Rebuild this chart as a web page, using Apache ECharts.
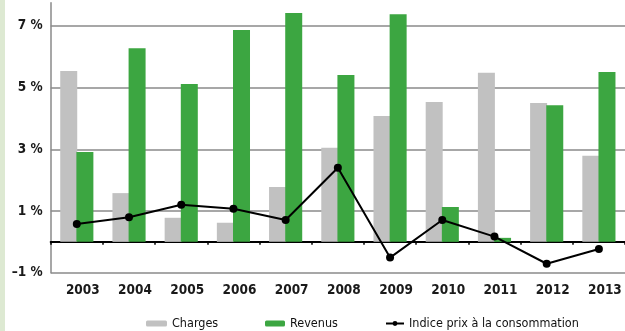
<!DOCTYPE html>
<html><head><meta charset="utf-8">
<script src="https://cdn.jsdelivr.net/npm/echarts@6/dist/echarts.min.js"></script>
<style>html,body{margin:0;padding:0;background:#fff}#c{width:625px;height:331px}
#strip{position:absolute;left:0;top:0;width:5px;height:331px;background:#dde9d2}</style>
</head><body><div id="strip"></div><div id="c"></div>
<script>
const years = ['2003','2004','2005','2006','2007','2008','2009','2010','2011','2012','2013'];
const charges = [5.54, 1.58, 0.78, 0.62, 1.78, 3.05, 4.08, 4.53, 5.48, 4.50, 2.79];
const revenus = [2.91, 6.28, 5.12, 6.87, 7.42, 5.41, 7.38, 1.13, 0.13, 4.43, 5.51];
const ipc = [0.58, 0.80, 1.20, 1.07, 0.71, 2.40, -0.51, 0.71, 0.17, -0.71, -0.23];
const yTickLabels = {'-1':'–1 %','1':'1 %','3':'3 %','5':'5 %','7':'7 %'};
const legendNames = ['Charges', 'Revenus', 'Indice prix à la consommation'];

const FONT = "'Liberation Sans Narrow','DejaVu Sans Condensed',sans-serif";
const legendStyle = {fontFamily: FONT, fontSize: 12.5, fontWeight: 'normal', color: '#111'};
const chart = echarts.init(document.getElementById('c'));
chart.setOption({
  animation: false,
  textStyle: {fontFamily: FONT},
  grid: {left: 50.7, right: 0, top: 2.8, bottom: 58.3, containLabel: false},
  legend: [
    {left: 141, top: 312, itemWidth: 21, itemHeight: 6, textStyle: legendStyle, data: [legendNames[0]]},
    {left: 260, top: 312, itemWidth: 20, itemHeight: 6, textStyle: legendStyle, data: [legendNames[1]]},
    {left: 380, top: 312, itemWidth: 18, itemHeight: 6, textStyle: legendStyle, data: [legendNames[2]]}
  ],
  xAxis: [{
    type: 'category', data: years,
    axisLine: {onZero: true, lineStyle: {color: '#000', width: 2}},
    axisTick: {show: true, length: 3, lineStyle: {color: '#000', width: 1.5}},
    axisLabel: {show: false}
  }, {
    type: 'category', data: years, position: 'bottom',
    axisLine: {show: false, onZero: false}, axisTick: {show: false},
    axisLabel: {margin: 11, fontFamily: FONT, fontSize: 13.5, fontWeight: 'bold', color: '#1a1a1a', padding: [0,0,0,12]}
  }],
  yAxis: {
    type: 'value', min: -1, max: 7.75, interval: 2,
    axisLine: {show: true, lineStyle: {color: '#8a8a8a', width: 1.5}},
    axisTick: {show: false},
    splitLine: {show: true, showMaxLine: false, lineStyle: {color: '#8a8a8a', width: 1.5}},
    axisLabel: {
      showMaxLabel: false, margin: 8, fontFamily: FONT, fontSize: 13.5, fontWeight: 'bold', color: '#1a1a1a',
      formatter: v => yTickLabels[String(Math.round(v))] && Math.abs(v - Math.round(v)) < 1e-6 ? yTickLabels[String(Math.round(v))] : ''
    }
  },
  series: [{
    name: 'Charges', type: 'bar', data: charges, barWidth: 17, barGap: '-5%',
    itemStyle: {color: '#c1c1c1'}
  }, {
    name: 'Revenus', type: 'bar', data: revenus, barWidth: 17,
    itemStyle: {color: '#3ca641'}
  }, {
    name: 'Indice prix à la consommation', type: 'line', data: ipc,
    symbol: 'circle', symbolSize: 8, z: 5,
    lineStyle: {color: '#000', width: 2}, itemStyle: {color: '#000'}
  }]
});
</script></body></html>
